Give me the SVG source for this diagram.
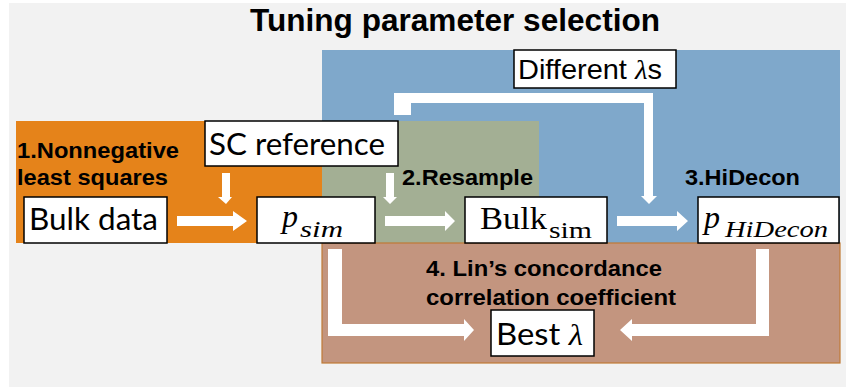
<svg xmlns="http://www.w3.org/2000/svg" width="846" height="387" viewBox="0 0 846 387">
<style>
.box{fill:#fff;stroke:#000;stroke-width:1.5}
.lbl{font-family:"Liberation Sans",Arial,sans-serif;font-weight:bold;font-size:22px;fill:#000}
.cal{font-family:Lato,"Liberation Sans",sans-serif;font-size:30px;fill:#000}
.math{font-family:"Liberation Serif","DejaVu Serif",serif;font-style:italic;fill:#000}
.rom{font-family:"Liberation Serif","DejaVu Serif",serif;fill:#000}
.conn{fill:#fff}
</style>
<rect x="0" y="0" width="846" height="387" fill="#fff"/>
<rect x="9" y="3" width="837" height="384" fill="#f2f2f2"/>
<g id="regions">
<rect x="322" y="50" width="518" height="193" fill="#7FA8CB"/>
<rect x="16" y="121" width="306" height="122" fill="#E5831A"/>
<rect x="322" y="121" width="217" height="122" fill="#A3AF94"/>
<rect x="322" y="243" width="518" height="120" fill="#C3957F" stroke="#C07A35" stroke-width="1.2"/>
</g>
<text x="250" y="31" font-family="Liberation Sans, Arial, sans-serif" font-weight="bold" font-size="31.5" textLength="410" lengthAdjust="spacingAndGlyphs">Tuning parameter selection</text>
<g id="labels">
<text class="lbl" x="17" y="158" textLength="162" lengthAdjust="spacingAndGlyphs">1.Nonnegative</text>
<text class="lbl" x="17" y="185" textLength="151" lengthAdjust="spacingAndGlyphs">least squares</text>
<text class="lbl" x="402" y="185" textLength="131" lengthAdjust="spacingAndGlyphs">2.Resample</text>
<text class="lbl" x="685" y="185" textLength="115" lengthAdjust="spacingAndGlyphs">3.HiDecon</text>
<text class="lbl" x="426" y="276" textLength="236" lengthAdjust="spacingAndGlyphs">4. Lin’s concordance</text>
<text class="lbl" x="426" y="305" textLength="250" lengthAdjust="spacingAndGlyphs">correlation coefficient</text>
</g>
<g id="connectors">
<polygon class="conn" points="177,216 233,216 233,211 247,221 233,231 233,226 177,226"/>
<polygon class="conn" points="222,173 230,173 230,197 232,197 226,204 218,197 222,197"/>
<polygon class="conn" points="386,173 394,173 394,197 397,197 390,204 383,197 386,197"/>
<polygon class="conn" points="385,216 445,216 445,211 455,221 445,231 445,226 385,226"/>
<polygon class="conn" points="617,216 677,216 677,211 688,221 677,231 677,226 617,226"/>
<polygon class="conn" points="394,93 653,93 653,196 657,196 649,204 641,196 644,196 644,103 411,103 411,115 394,115"/>
<polygon class="conn" points="328,249 342,249 342,324 464,324 464,319 474,330 464,341 464,336 328,336"/>
<polygon class="conn" points="756,249 769,249 769,336 632,336 632,341 620,330 632,319 632,324 756,324"/>
</g>
<g id="different-lambdas">
<rect class="box" x="514" y="50" width="162" height="38"/>
<text x="518" y="79" font-family="Liberation Sans, Arial, sans-serif" font-size="28" textLength="144" lengthAdjust="spacingAndGlyphs">Different <tspan class="math">λ</tspan>s</text>
</g>
<g id="sc-reference">
<rect class="box" x="205" y="121" width="193" height="45"/>
<text class="cal" x="209" y="155" textLength="176" lengthAdjust="spacingAndGlyphs">SC reference</text>
</g>
<g id="bulk-data">
<rect class="box" x="24" y="197" width="143" height="46"/>
<text class="cal" x="29" y="230" textLength="129" lengthAdjust="spacingAndGlyphs">Bulk data</text>
</g>
<g id="p-sim">
<rect class="box" x="257" y="197" width="118" height="46"/>
<text class="math" x="282" y="227" font-size="32">p</text>
<text class="math" x="300" y="237" font-size="23" textLength="43" lengthAdjust="spacingAndGlyphs">sim</text>
</g>
<g id="bulk-sim">
<rect class="box" x="465" y="197" width="142" height="46"/>
<text class="rom" x="480" y="229" font-size="32" textLength="67" lengthAdjust="spacingAndGlyphs">Bulk</text>
<text class="rom" x="549" y="238" font-size="23" textLength="43" lengthAdjust="spacingAndGlyphs">sim</text>
</g>
<g id="p-hidecon">
<rect class="box" x="698" y="197" width="141" height="46"/>
<text class="math" x="704" y="228" font-size="32">p</text>
<text class="math" x="725" y="237" font-size="23" textLength="103" lengthAdjust="spacingAndGlyphs">HiDecon</text>
</g>
<g id="best-lambda">
<rect class="box" x="491" y="310" width="103" height="46"/>
<text class="cal" x="496" y="345" textLength="87" lengthAdjust="spacingAndGlyphs">Best <tspan class="math">λ</tspan></text>
</g>
</svg>
